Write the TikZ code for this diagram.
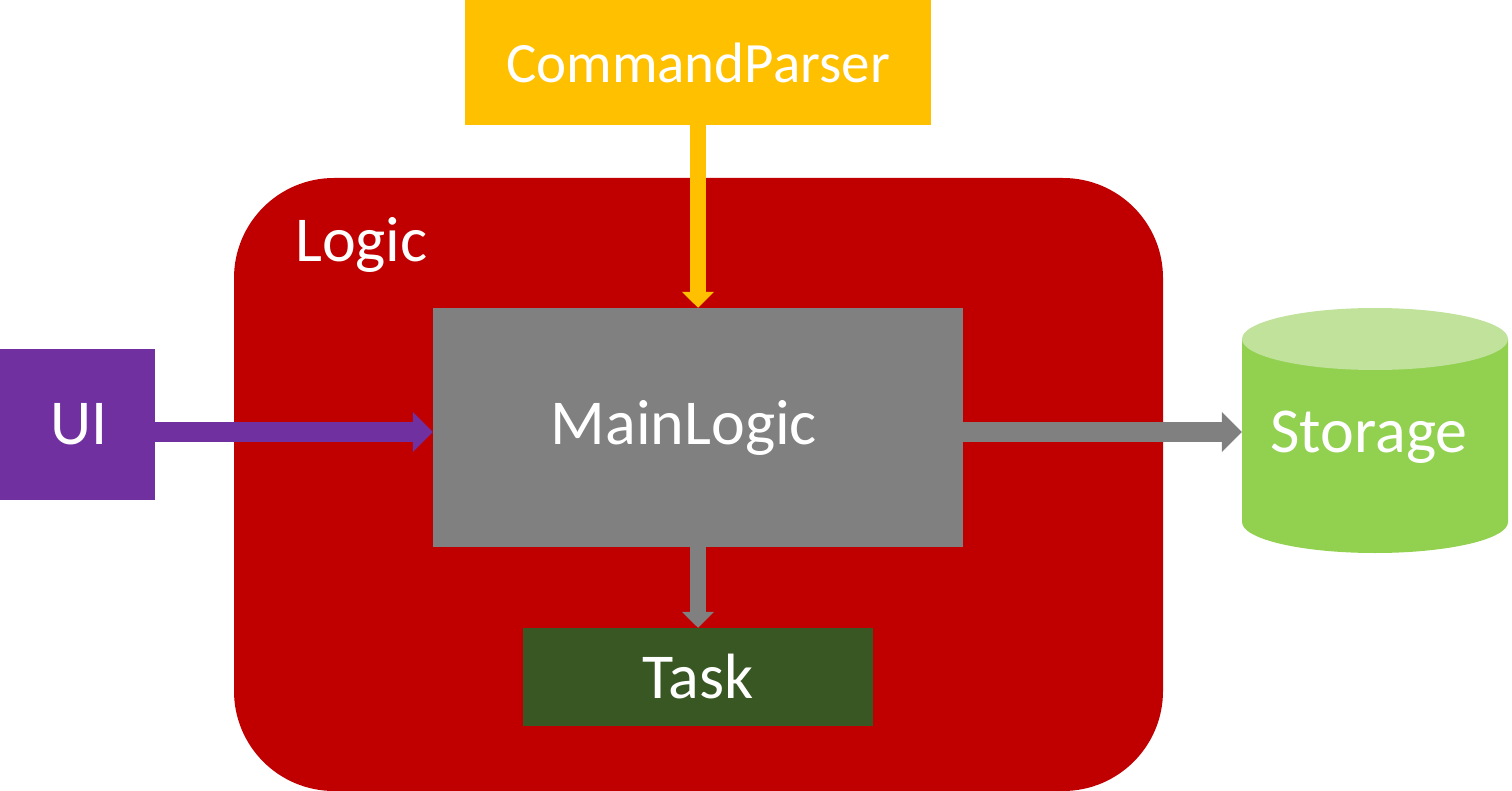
\documentclass[tikz,border=0pt]{standalone}
\usepackage{fontspec}
\setmainfont{Carlito}
\usetikzlibrary{arrows.meta}
\definecolor{logicred}{HTML}{C00000}
\definecolor{cpyellow}{HTML}{FFC000}
\definecolor{mlgray}{HTML}{808080}
\definecolor{taskgreen}{HTML}{385723}
\definecolor{uipurple}{HTML}{7030A0}
\definecolor{stbody}{HTML}{92D050}
\definecolor{sttop}{HTML}{C0E29A}
\tikzset{
  box/.style={draw=none, inner sep=0pt, text=white, font=\fontsize{64}{70}\selectfont},
  bigarrow/.style={line width=20pt, -{Triangle[width=39pt,length=20pt]}},
  smallarrow/.style={line width=16pt, -{Triangle[width=31pt,length=16pt]}},
}
\begin{document}
\begin{tikzpicture}[x=1pt,y=-1pt]
\useasboundingbox (0,0) rectangle (1512,791);
% Logic container
\fill[logicred, rounded corners=100pt] (234,178) rectangle (1163,791);
\node[box, anchor=west] (logic) at (295,245) {Logic};
% boxes
\node[box, fill=cpyellow, minimum width=466pt, minimum height=125pt, font=\fontsize{57}{62}\selectfont] (cp) at (698,62.5) {CommandParser};
\node[box, fill=mlgray, minimum width=530pt, minimum height=239pt] (main) at (698,427.5) {\hspace*{-28pt}\raisebox{7pt}{MainLogic}};
\node[box, fill=taskgreen, minimum width=350pt, minimum height=98pt] (task) at (698,677) {Task};
\node[box, fill=uipurple, minimum width=155pt, minimum height=151pt] (ui) at (77.5,424.5) {\hspace*{4pt}UI};
% storage cylinder
\fill[stbody] (1242,339) -- (1242,522) arc[start angle=180, end angle=360, x radius=133, y radius=-31] -- (1508,339) -- cycle;
\fill[sttop] (1375,339) ellipse[x radius=133, y radius=31];
\node[box, minimum width=266pt, minimum height=200pt] (storage) at (1375,437) {\hspace*{-12pt}Storage};
\coordinate (arrowy) at (0,432);
% connectors
\draw[bigarrow, uipurple] (ui.east |- arrowy) -- (main.west |- arrowy);
\draw[bigarrow, mlgray] (main.east |- arrowy) -- (storage.west |- arrowy);
\draw[smallarrow, cpyellow] (cp.south) -- (main.north);
\draw[smallarrow, mlgray] (main.south) -- (task.north);
\end{tikzpicture}
\end{document}
